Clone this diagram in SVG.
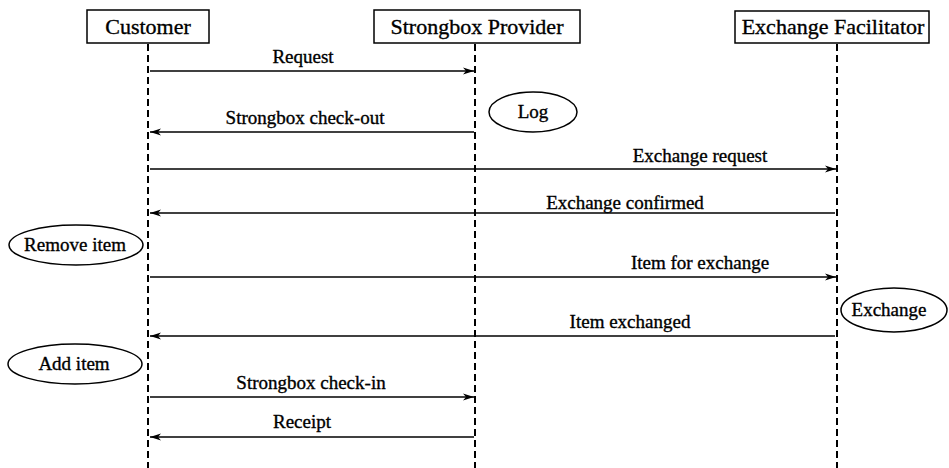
<svg xmlns="http://www.w3.org/2000/svg" width="949" height="468" viewBox="0 0 949 468">
<style>
  .box{fill:#fff;stroke:#000;stroke-width:1.5}
  .life{stroke:#000;stroke-width:2;stroke-dasharray:7,4;fill:none}
  .msg{stroke:#000;stroke-width:1.5;fill:none}
  .ell{fill:#fff;stroke:#000;stroke-width:1.5}
  .t{font-family:"Liberation Serif","Times New Roman",serif;fill:#000;stroke:#000;stroke-width:0.35;text-anchor:middle}
  .h{font-size:22px}
  .m{font-size:19px}
</style>
<defs>
  <marker id="ah" markerUnits="userSpaceOnUse" markerWidth="12" markerHeight="8" refX="11" refY="4" orient="auto">
    <path d="M0,0.5 L11,4 L0,7.5 L3,4 z" fill="#000"/>
  </marker>
</defs>
<g id="lifelines">
  <line class="life" x1="148" y1="44" x2="148" y2="468"/>
  <line class="life" x1="475" y1="44" x2="475" y2="468"/>
  <line class="life" x1="837" y1="44" x2="837" y2="468"/>
</g>
<g id="customer">
  <rect class="box" x="87" y="10" width="122" height="33"/>
  <text class="t h" x="148" y="34">Customer</text>
</g>
<g id="provider">
  <rect class="box" x="374" y="10" width="206" height="33"/>
  <text class="t h" x="477" y="34">Strongbox Provider</text>
</g>
<g id="facilitator">
  <rect class="box" x="735" y="11" width="194" height="32"/>
  <text class="t h" x="833" y="34">Exchange Facilitator</text>
</g>
<g id="log">
  <ellipse class="ell" cx="533" cy="112" rx="44" ry="20"/>
  <text class="t m" x="533" y="118">Log</text>
</g>
<g id="remove-item">
  <ellipse class="ell" cx="76" cy="245" rx="67" ry="20"/>
  <text class="t m" x="75" y="251">Remove item</text>
</g>
<g id="exchange">
  <ellipse class="ell" cx="894" cy="310" rx="53" ry="22"/>
  <text class="t m" x="889" y="316">Exchange</text>
</g>
<g id="add-item">
  <ellipse class="ell" cx="75" cy="364" rx="67" ry="20"/>
  <text class="t m" x="74" y="370">Add item</text>
</g>
<g id="connectors">
  <line class="msg" x1="150" y1="71" x2="474" y2="71" marker-end="url(#ah)"/>
  <text class="t m" x="303" y="63">Request</text>
  <line class="msg" x1="474" y1="132" x2="150" y2="132" marker-end="url(#ah)"/>
  <text class="t m" x="305" y="124">Strongbox check-out</text>
  <line class="msg" x1="150" y1="169" x2="836" y2="169" marker-end="url(#ah)"/>
  <text class="t m" x="700" y="162">Exchange request</text>
  <line class="msg" x1="835" y1="213" x2="150" y2="213" marker-end="url(#ah)"/>
  <text class="t m" x="625" y="209">Exchange confirmed</text>
  <line class="msg" x1="150" y1="277" x2="836" y2="277" marker-end="url(#ah)"/>
  <text class="t m" x="700" y="269">Item for exchange</text>
  <line class="msg" x1="835" y1="336" x2="150" y2="336" marker-end="url(#ah)"/>
  <text class="t m" x="630" y="328">Item exchanged</text>
  <line class="msg" x1="150" y1="397" x2="474" y2="397" marker-end="url(#ah)"/>
  <text class="t m" x="311" y="389">Strongbox check-in</text>
  <line class="msg" x1="474" y1="437" x2="150" y2="437" marker-end="url(#ah)"/>
  <text class="t m" x="302" y="428">Receipt</text>
</g>
</svg>
